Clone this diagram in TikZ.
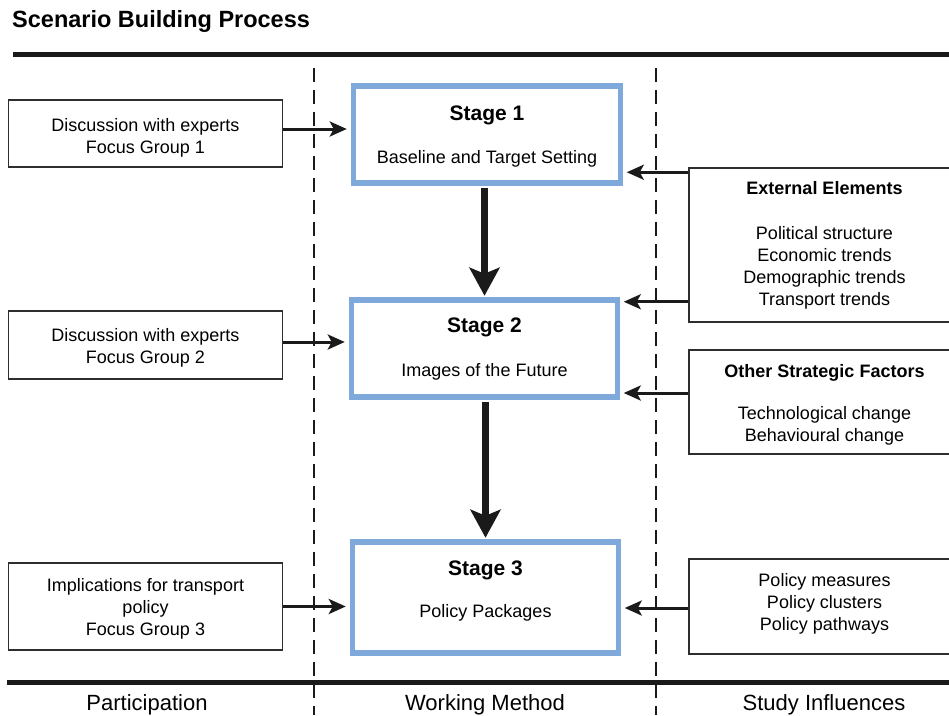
\documentclass[tikz,border=0pt]{standalone}
\usepackage{fontspec}
\setmainfont{Liberation Sans}
\usetikzlibrary{arrows.meta,calc}
\definecolor{stageblue}{HTML}{7EA9DA}
\definecolor{boxline}{HTML}{2E2E2E}
\definecolor{ink}{HTML}{1A1A1A}
\begin{document}
\begin{tikzpicture}[x=1pt,y=1pt,
  txt/.style={font=\fontsize{18}{22}\selectfont, align=center, inner sep=0pt},
  plainbox/.style={draw=boxline, line width=1.5pt, fill=white, inner sep=0pt},
  stagebox/.style={draw=stageblue, line width=5.5pt, inner sep=0pt},
  stagetitle/.style={font=\fontsize{21}{25}\selectfont\bfseries, inner sep=0pt, anchor=base},
  stagesub/.style={font=\fontsize{18}{22}\selectfont, inner sep=0pt, anchor=base},
  thinarrow/.style={draw=ink, line width=3pt, -{Stealth[length=17pt,width=15pt,inset=4pt]}},
  thickarrow/.style={draw=ink, line width=6.5pt, -{Stealth[length=28pt,width=30pt,inset=6pt]}},
  divider/.style={draw=ink, line width=2.9pt, dash pattern=on 14pt off 8pt},
  hrule/.style={draw=ink, line width=5pt},
  footlabel/.style={font=\fontsize{22}{26}\selectfont, inner sep=0pt, anchor=base}
]
\useasboundingbox (0,0) rectangle (949,-715);
\clip (0,0) rectangle (949,-715);

% title and rules
\node[anchor=base west, inner sep=0pt, font=\fontsize{23.5}{28}\selectfont\bfseries] (title) at (12,-27.5) {Scenario Building Process};
\draw[hrule] (13,-54.5) -- (949,-54.5);
\draw[hrule] (7,-682) -- (949,-682);

% column dividers
\draw[divider] (314,-68) -- (314,-715);
\draw[divider] (656,-68) -- (656,-715);

% left boxes
\node[plainbox, minimum width=274pt, minimum height=67pt] (L1) at (145.5,-133.5) {};
\node[txt] (L1t) at ([yshift=-4pt]L1.center) {Discussion with experts\\Focus Group 1};
\node[plainbox, minimum width=274pt, minimum height=68pt] (L2) at (145.5,-345) {};
\node[txt] (L2t) at ([yshift=-3pt]L2.center) {Discussion with experts\\Focus Group 2};
\node[plainbox, minimum width=274pt, minimum height=87pt] (L3) at (145.5,-606.5) {};
\node[txt] (L3t) at ([yshift=-2pt]L3.center) {Implications for transport\\policy\\Focus Group 3};

% stage boxes
\node[stagebox, minimum width=267pt, minimum height=97pt] (S1) at (487,-134.5) {};
\node[stagetitle] (S1t) at (487,-120.5) {Stage 1};
\node[stagesub] (S1s) at (487,-163) {Baseline and Target Setting};

\node[stagebox, minimum width=266pt, minimum height=97pt] (S2) at (484.5,-348.5) {};
\node[stagetitle] (S2t) at (484.5,-332.5) {Stage 2};
\node[stagesub] (S2s) at (484.5,-376) {Images of the Future};

\node[stagebox, minimum width=266pt, minimum height=111pt] (S3) at (485.5,-597.5) {};
\node[stagetitle] (S3t) at (485.5,-575.5) {Stage 3};
\node[stagesub] (S3s) at (485.5,-617) {Policy Packages};

% right boxes
\node[plainbox, minimum width=271pt, minimum height=154pt] (R1) at (824.5,-245) {};
\node[txt] (R1t) at (R1.center) {\textbf{External Elements}\\[23pt]Political structure\\Economic trends\\Demographic trends\\Transport trends};
\node[plainbox, minimum width=271pt, minimum height=104pt] (R2) at (824.5,-402) {};
\node[txt] (R2t) at ([yshift=-3pt]R2.center) {\textbf{Other Strategic Factors}\\[20pt]Technological change\\Behavioural change};
\node[plainbox, minimum width=271pt, minimum height=95pt] (R3) at (824.5,-606.5) {};
\node[txt] (R3t) at ([yshift=3pt]R3.center) {Policy measures\\Policy clusters\\Policy pathways};

% stage flow
\draw[thickarrow, shorten <=2.5pt, shorten >=1.5pt] (S1.south -| S2.north) -- (S2.north);
\draw[thickarrow, shorten <=2.5pt, shorten >=1.5pt] (S2.south -| S3.north) -- (S3.north);

% participation inputs
\draw[thinarrow, shorten >=4pt] ([yshift=4.5pt]L1.east) -- ([yshift=4.5pt]L1.east -| S1.west);
\draw[thinarrow, shorten >=4pt] ([yshift=3pt]L2.east) -- ([yshift=3pt]L2.east -| S2.west);
\draw[thinarrow, shorten >=4pt] (L3.east) -- (L3.east -| S3.west);

% study influences
\draw[thinarrow, shorten >=3.5pt] ([yshift=-5pt]R1.north west) -- ([yshift=-5pt]R1.north west -| S1.east);
\draw[thinarrow, shorten >=3.5pt] ([yshift=21pt]R1.south west) -- ([yshift=21pt]R1.south west -| S2.east);
\draw[thinarrow, shorten >=3.5pt] ([yshift=9pt]R2.west) -- ([yshift=9pt]R2.west -| S2.east);
\draw[thinarrow, shorten >=3.5pt] ([yshift=-1.5pt]R3.west) -- ([yshift=-1.5pt]R3.west -| S3.east);

% footer
\node[footlabel] (F1) at (147,-710) {Participation};
\node[footlabel] (F2) at (485,-710) {Working Method};
\node[footlabel] (F3) at (824,-710) {Study Influences};
\end{tikzpicture}
\end{document}
